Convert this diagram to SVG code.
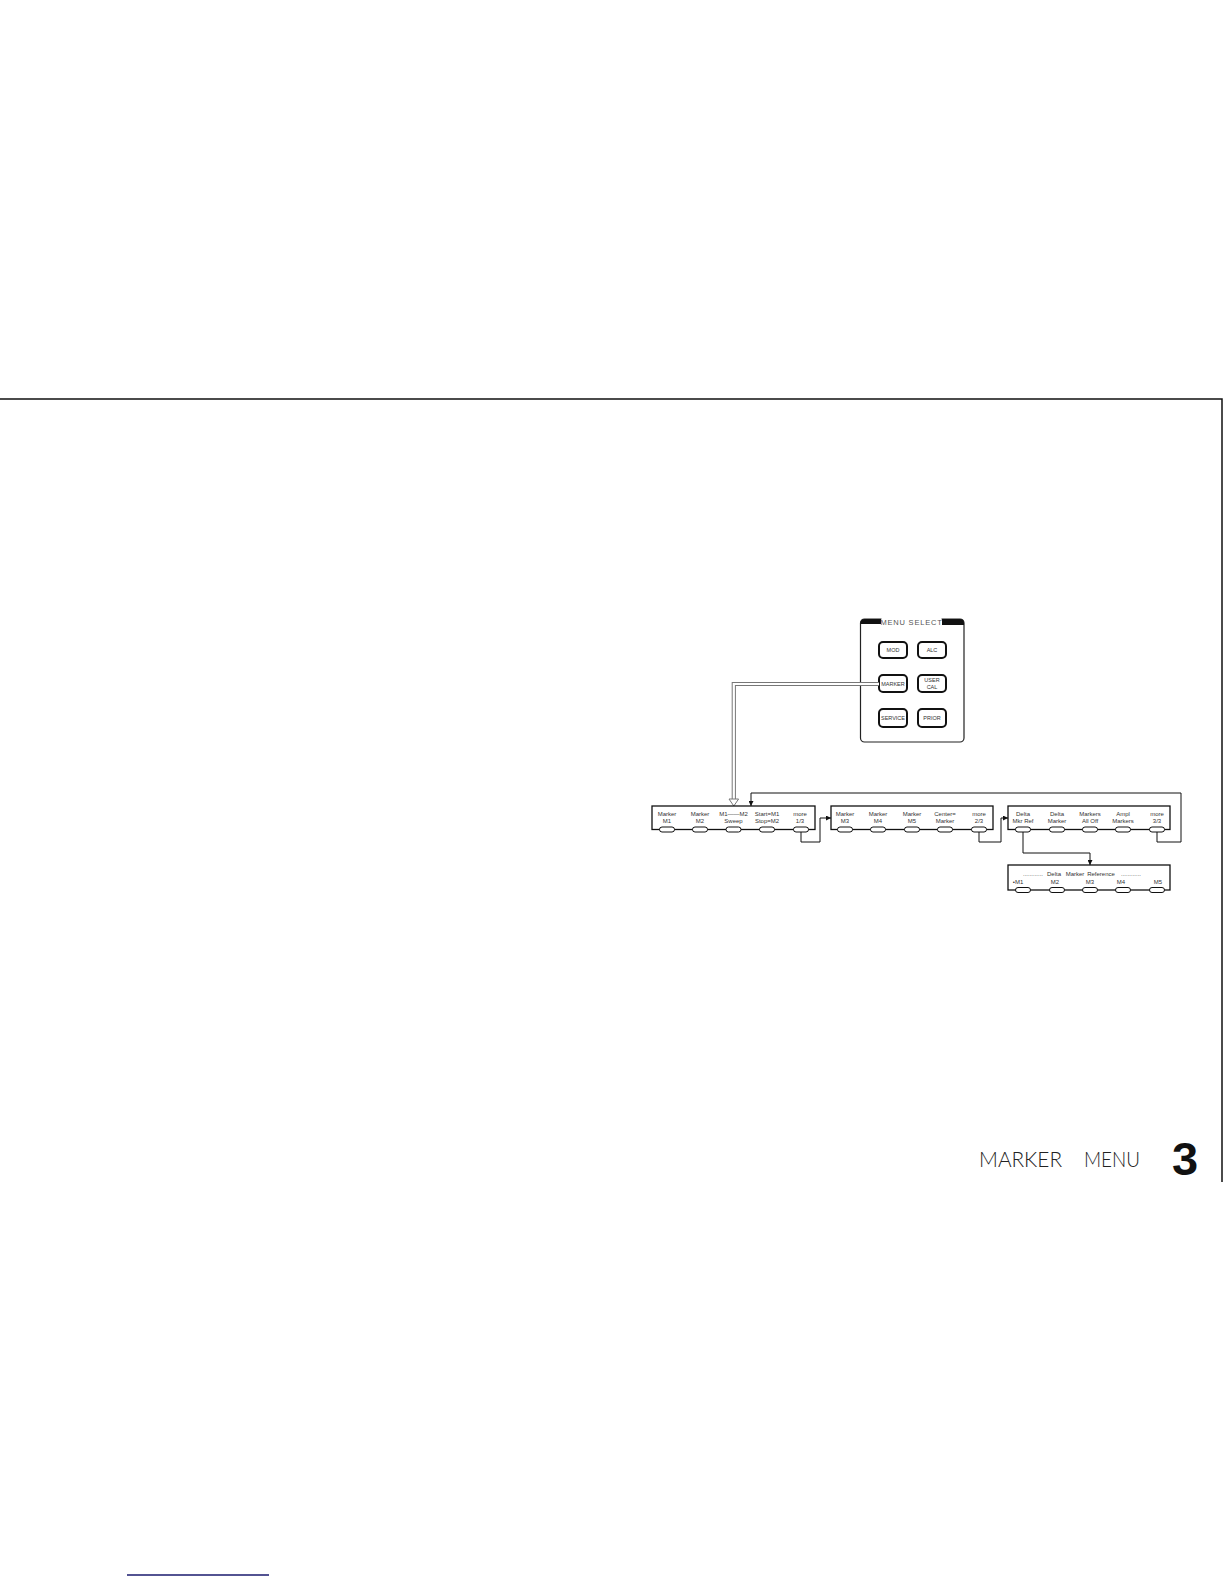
<svg xmlns="http://www.w3.org/2000/svg" width="1224" height="1584" viewBox="0 0 1224 1584">
<style>
.pg{stroke:#111;stroke-width:1.5;fill:none}
.box{fill:#fff;stroke:#111;stroke-width:1.3}
.key{fill:#fff;stroke:#111;stroke-width:1}
.btn{fill:#fff;stroke:#111;stroke-width:2}
.lbl{font-family:"Liberation Sans",Arial,sans-serif;font-size:6px;fill:#333;text-anchor:middle}
.blbl{font-family:"Liberation Sans",Arial,sans-serif;font-size:5.5px;fill:#333;text-anchor:middle}
.wire{fill:none;stroke:#111;stroke-width:1}
.ttl{font-family:Lato,"Liberation Sans",Arial,sans-serif;font-weight:300;font-size:21px;fill:#222}
</style>
<defs>
<marker id="ah" viewBox="0 0 10 10" refX="10" refY="5" markerWidth="5" markerHeight="5" orient="auto" markerUnits="userSpaceOnUse">
<path d="M0,0 L10,5 L0,10 z" fill="#111"/>
</marker>
</defs>
<rect width="1224" height="1584" fill="#fff"/>
<g id="page">
<path class="pg" d="M0,399 H1222 V1182"/>
<line x1="127" y1="1575" x2="269" y2="1575" stroke="#1a1a6e" stroke-width="1.5"/>
<text class="ttl" x="979" y="1167" textLength="83" lengthAdjust="spacingAndGlyphs">MARKER</text>
<text class="ttl" x="1084" y="1167" textLength="56" lengthAdjust="spacingAndGlyphs">MENU</text>
<text x="1172" y="1175" font-family="Liberation Sans,Arial,sans-serif" font-size="47" font-weight="bold" fill="#111">3</text>
</g>
<g id="menu-select">
<rect x="860.5" y="619" width="103.5" height="123" rx="4" fill="#fff" stroke="#222" stroke-width="1.2"/>
<rect x="881.5" y="617" width="60" height="4" fill="#fff"/>
<path d="M860.5,625 V623 Q860.5,619 864.5,619 H881 V624 H860.5 z" fill="#111"/>
<path d="M942,619 H960 Q964,619 964,623 V625 H942 z" fill="#111"/>
<text x="911.5" y="625" font-family="Liberation Sans,Arial,sans-serif" font-size="7.5" fill="#555" text-anchor="middle" letter-spacing="0.8">MENU  SELECT</text>
<g id="btn-mod"><rect class="btn" x="879" y="642" width="28" height="16" rx="4"/><text class="blbl" x="893" y="652">MOD</text></g>
<g id="btn-alc"><rect class="btn" x="918" y="642" width="28" height="16" rx="4"/><text class="blbl" x="932" y="652">ALC</text></g>
<g id="btn-marker"><rect class="btn" x="879" y="675" width="28" height="17" rx="4"/><text class="blbl" x="893" y="685.5">MARKER</text></g>
<g id="btn-usercal"><rect class="btn" x="918" y="675" width="28" height="17" rx="4"/><text class="blbl" x="932" y="682">USER</text><text class="blbl" x="932" y="688.5">CAL</text></g>
<g id="btn-service"><rect class="btn" x="879" y="709" width="28" height="18" rx="4"/><text class="blbl" x="893" y="720">SERVICE</text></g>
<g id="btn-prior"><rect class="btn" x="918" y="709" width="28" height="18" rx="4"/><text class="blbl" x="932" y="720">PRIOR</text></g>
</g>
<g id="connectors">
<path d="M879,684 H733.8 V800" fill="none" stroke="#777" stroke-width="4.2"/>
<path d="M879,684 H733.8 V801" fill="none" stroke="#fff" stroke-width="2.2"/>
<path d="M729,799 H738.6 L733.8,806 z" fill="#fff" stroke="#777" stroke-width="1"/>
<path class="wire" d="M1157,832 V842 H1181 V793 H751 V806" marker-end="url(#ah)"/>
<path class="wire" d="M801,832 V842 H820 V818 H831" marker-end="url(#ah)"/>
<path class="wire" d="M979,832 V842 H1001 V818 H1008" marker-end="url(#ah)"/>
<path class="wire" d="M1023,832 V853 H1090 V865" marker-end="url(#ah)"/>
</g>
<g id="menu1">
<rect class="box" x="652" y="806" width="163" height="23.5"/>
<text class="lbl" x="667" y="816">Marker</text><text class="lbl" x="667" y="823">M1</text>
<text class="lbl" x="700" y="816">Marker</text><text class="lbl" x="700" y="823">M2</text>
<text class="lbl" x="733.5" y="816">M1——M2</text><text class="lbl" x="733.5" y="823">Sweep</text>
<text class="lbl" x="767" y="816">Start=M1</text><text class="lbl" x="767" y="823">Stop=M2</text>
<text class="lbl" x="800" y="816">more</text><text class="lbl" x="800" y="823">1/3</text>
<rect class="key" x="659.5" y="827" width="15" height="5" rx="2.5"/>
<rect class="key" x="692.5" y="827" width="15" height="5" rx="2.5"/>
<rect class="key" x="726" y="827" width="15" height="5" rx="2.5"/>
<rect class="key" x="759.5" y="827" width="15" height="5" rx="2.5"/>
<rect class="key" x="793.5" y="827" width="15" height="5" rx="2.5"/>
</g>
<g id="menu2">
<rect class="box" x="831" y="806" width="162" height="23.5"/>
<text class="lbl" x="845" y="816">Marker</text><text class="lbl" x="845" y="823">M3</text>
<text class="lbl" x="878" y="816">Marker</text><text class="lbl" x="878" y="823">M4</text>
<text class="lbl" x="912" y="816">Marker</text><text class="lbl" x="912" y="823">M5</text>
<text class="lbl" x="945" y="816">Center=</text><text class="lbl" x="945" y="823">Marker</text>
<text class="lbl" x="979" y="816">more</text><text class="lbl" x="979" y="823">2/3</text>
<rect class="key" x="837.5" y="827" width="15" height="5" rx="2.5"/>
<rect class="key" x="870.5" y="827" width="15" height="5" rx="2.5"/>
<rect class="key" x="904.5" y="827" width="15" height="5" rx="2.5"/>
<rect class="key" x="937.5" y="827" width="15" height="5" rx="2.5"/>
<rect class="key" x="971.5" y="827" width="15" height="5" rx="2.5"/>
</g>
<g id="menu3">
<rect class="box" x="1008" y="806" width="162" height="23.5"/>
<text class="lbl" x="1023" y="816">Delta</text><text class="lbl" x="1023" y="823">Mkr  Ref</text>
<text class="lbl" x="1057" y="816">Delta</text><text class="lbl" x="1057" y="823">Marker</text>
<text class="lbl" x="1090" y="816">Markers</text><text class="lbl" x="1090" y="823">All  Off</text>
<text class="lbl" x="1123" y="816">Ampl</text><text class="lbl" x="1123" y="823">Markers</text>
<text class="lbl" x="1157" y="816">more</text><text class="lbl" x="1157" y="823">3/3</text>
<rect class="key" x="1015.5" y="827" width="15" height="5" rx="2.5"/>
<rect class="key" x="1049.5" y="827" width="15" height="5" rx="2.5"/>
<rect class="key" x="1082.5" y="827" width="15" height="5" rx="2.5"/>
<rect class="key" x="1115.5" y="827" width="15" height="5" rx="2.5"/>
<rect class="key" x="1149.5" y="827" width="15" height="5" rx="2.5"/>
</g>
<g id="menu4">
<rect class="box" x="1008" y="865" width="162" height="25"/>
<text class="lbl" x="1033" y="876">............</text>
<text class="lbl" x="1054" y="876">Delta</text>
<text class="lbl" x="1075" y="876">Marker</text>
<text class="lbl" x="1101" y="876">Reference</text>
<text class="lbl" x="1131" y="876">............</text>
<text class="lbl" x="1018" y="884">•M1</text>
<text class="lbl" x="1055" y="884">M2</text>
<text class="lbl" x="1090" y="884">M3</text>
<text class="lbl" x="1121" y="884">M4</text>
<text class="lbl" x="1158" y="884">M5</text>
<rect class="key" x="1015.5" y="887.5" width="15" height="5" rx="2.5"/>
<rect class="key" x="1049.5" y="887.5" width="15" height="5" rx="2.5"/>
<rect class="key" x="1082.5" y="887.5" width="15" height="5" rx="2.5"/>
<rect class="key" x="1115.5" y="887.5" width="15" height="5" rx="2.5"/>
<rect class="key" x="1149.5" y="887.5" width="15" height="5" rx="2.5"/>
</g>
</svg>
